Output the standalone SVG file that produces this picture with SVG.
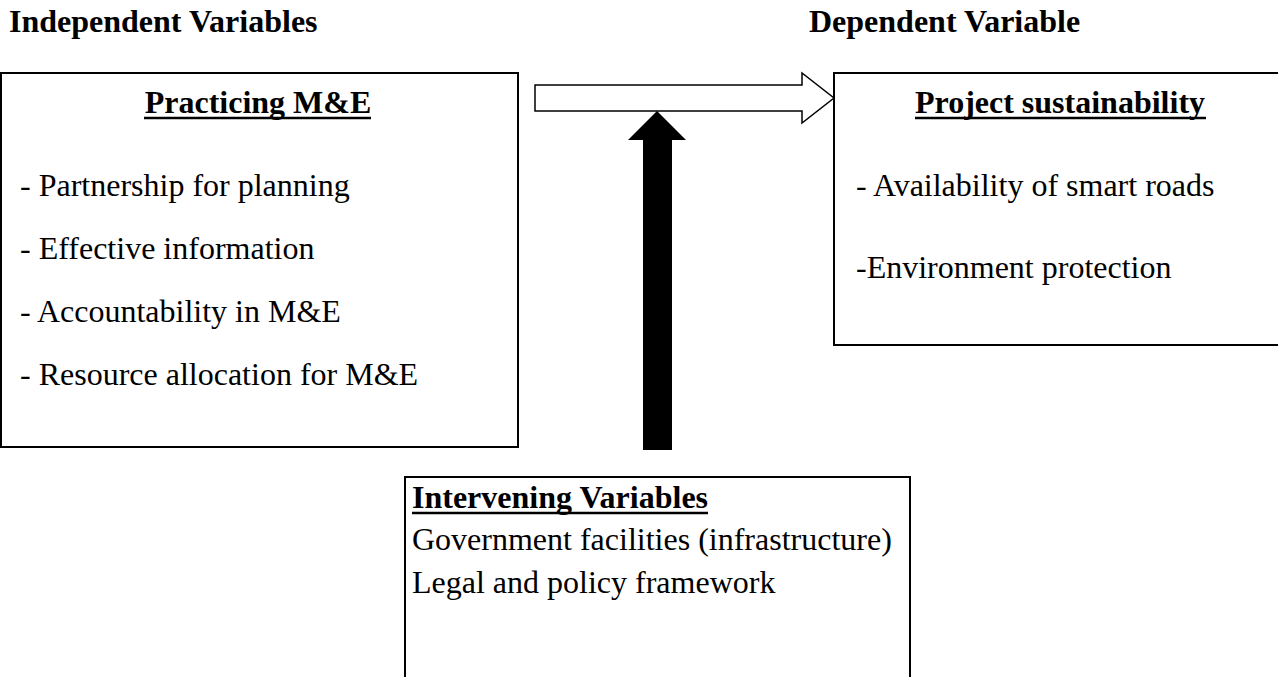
<svg xmlns="http://www.w3.org/2000/svg" width="1278" height="677" viewBox="0 0 1278 677">
<style>
.box{fill:#fff;stroke:#000;stroke-width:2}
.hdr{font-family:"Liberation Serif","Times New Roman",serif;font-weight:bold;font-size:32px;fill:#000}
.ttl{font-family:"Liberation Serif","Times New Roman",serif;font-weight:bold;font-size:32px;fill:#000}
.txt{font-family:"Liberation Serif","Times New Roman",serif;font-size:32px;fill:#000}
.ul{stroke:#000;stroke-width:2.5}
</style>
<rect width="1278" height="677" fill="#fff"/>
<g id="headers">
<text class="hdr" x="9" y="32">Independent Variables</text>
<text class="hdr" x="809" y="32">Dependent Variable</text>
</g>
<g id="node-independent">
<rect class="box" x="1" y="73" width="517" height="374"/>
<text class="ttl" x="258" y="113" text-anchor="middle">Practicing M&amp;E</text>
<line class="ul" x1="144" y1="118" x2="371" y2="118"/>
<text class="txt" x="20" y="196">- Partnership for planning</text>
<text class="txt" x="20" y="259">- Effective information</text>
<text class="txt" x="20" y="322">- Accountability in M&amp;E</text>
<text class="txt" x="20" y="385">- Resource allocation for M&amp;E</text>
</g>
<g id="node-dependent">
<rect class="box" x="834" y="73" width="453" height="272"/>
<text class="ttl" x="1060" y="113" text-anchor="middle">Project sustainability</text>
<line class="ul" x1="915" y1="118" x2="1206" y2="118"/>
<text class="txt" x="856" y="196">- Availability of smart roads</text>
<text class="txt" x="856" y="278">-Environment protection</text>
</g>
<g id="node-intervening">
<rect class="box" x="405" y="477" width="505" height="220"/>
<text class="ttl" x="412" y="508">Intervening Variables</text>
<line class="ul" x1="412" y1="513" x2="708" y2="513"/>
<text class="txt" x="412" y="550">Government facilities (infrastructure)</text>
<text class="txt" x="412" y="593">Legal and policy framework</text>
</g>
<g id="connectors">
<path d="M535 85 H802 V73 L834 98 L802 123 V111 H535 Z" fill="#fff" stroke="#000" stroke-width="1.5" stroke-linejoin="miter"/>
<path d="M657 111 L686 140 H672 V450 H643 V140 H628 Z" fill="#000" stroke="none"/>
</g>
</svg>
